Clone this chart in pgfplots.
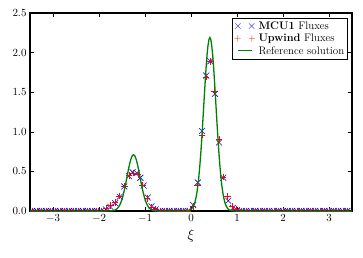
\documentclass[border=0pt]{standalone}
\usepackage{pgfplots}
\pgfplotsset{compat=1.18}
\definecolor{mplblue}{rgb}{0,0,1}
\definecolor{mplred}{rgb}{1,0,0}
\definecolor{mplgreen}{rgb}{0,0.5,0}
\pgfplotsset{
  bluemarks/.style={legend image code/.code={%
    \node[inner sep=0pt, anchor=center, text=mplblue, font=\large] at (0.25cm,0cm) {\textcolor{mplblue}{$\times\kern4.6pt\times$}};}},
  redmarks/.style={legend image code/.code={%
    \node[inner sep=0pt, anchor=center, text=mplred, font=\normalsize] at (0.25cm,0cm) {\textcolor{mplred}{$+\kern6.4pt+$}};}},
  shortline/.style={legend image code/.code={%
    \node[inner sep=0pt, anchor=center, text=mplgreen] at (0.25cm,0cm) {\textcolor{mplgreen}{\rule{0.5cm}{1.3pt}}};}},
}
\begin{document}
\begin{tikzpicture}
\begin{axis}[
  scale only axis,
  width=322bp, height=198bp,
  xmin=-3.5, xmax=3.5, ymin=0, ymax=2.5,
  xtick={-3,-2,-1,0,1,2,3},
  ytick={0,0.5,1,1.5,2,2.5},
  yticklabel style={/pgf/number format/.cd, fixed, fixed zerofill, precision=1},
  tick label style={font=\fontsize{11}{13}\selectfont},
  major tick length=4bp,
  tick style={black, line width=0.6pt},
  axis line style={line width=1.1pt},
  xlabel={$\xi$},
  xlabel style={font=\Large, yshift=0bp},
  clip marker paths=true,
  legend style={at={(1,1)}, anchor=north east, xshift=-4bp, yshift=-5bp,
    font=\fontsize{11}{13}\selectfont,
    inner sep=1.2bp, row sep=-0.5bp},
  every axis legend/.append style={draw, line width=1.1pt},
  legend cell align=left,
]
\addplot[only marks, mark=x, mark size=4.2pt, mplblue, mark options={line width=0.6pt, mplblue}, bluemarks]
coordinates {
(-3.45,0)(-3.35,0)(-3.25,0)(-3.15,0)(-3.05,0)(-2.95,0)(-2.85,0)(-2.75,0)(-2.65,0)(-2.55,0)(-2.45,0)(-2.35,0)(-2.25,0)(-2.15,0)(-2.05,0)(-1.95,0)
(-1.85,0.02)(-1.75,0.05)(-1.65,0.10)(-1.55,0.18)(-1.45,0.31)(-1.35,0.44)(-1.27,0.49)(-1.18,0.48)(-1.10,0.42)(-1.03,0.32)(-0.94,0.17)(-0.86,0.06)(-0.77,0.02)
(-0.67,0)(-0.57,0)(-0.47,0)(-0.37,0)(-0.27,0)(-0.17,0)(-0.07,0)
(0.05,0.076)(0.15,0.36)(0.24,1.01)(0.33,1.71)(0.42,1.89)(0.52,1.48)(0.61,0.865)(0.70,0.42)(0.81,0.13)(0.91,0.04)(1.0,0.01)
(1.1,0)(1.2,0)(1.3,0)(1.4,0)(1.5,0)(1.6,0)(1.7,0)(1.8,0)(1.9,0)(2.0,0)(2.1,0)(2.2,0)(2.3,0)(2.4,0)(2.5,0)(2.6,0)(2.7,0)(2.8,0)(2.9,0)(3.0,0)(3.1,0)(3.2,0)(3.3,0)(3.4,0)
};
\addlegendentry{\textbf{MCU1} Fluxes}
\addplot[only marks, mark=+, mark size=3.3pt, mplred, mark options={line width=0.6pt, mplred}, redmarks]
coordinates {
(-3.45,0)(-3.35,0)(-3.25,0)(-3.15,0)(-3.05,0)(-2.95,0)(-2.85,0)(-2.75,0)(-2.65,0)(-2.55,0)(-2.45,0)(-2.35,0)(-2.25,0)(-2.15,0)(-2.05,0)(-1.95,0)
(-1.85,0.03)(-1.75,0.07)(-1.65,0.11)(-1.55,0.19)(-1.45,0.31)(-1.35,0.45)(-1.25,0.48)(-1.15,0.46)(-1.05,0.33)(-0.96,0.16)(-0.86,0.05)(-0.77,0.02)
(-0.67,0)(-0.57,0)(-0.47,0)(-0.37,0)(-0.27,0)(-0.17,0)(-0.07,0)
(0.04,0.055)(0.14,0.33)(0.24,0.96)(0.33,1.69)(0.42,1.89)(0.51,1.51)(0.61,0.905)(0.70,0.43)(0.79,0.18)(0.89,0.055)(0.98,0.02)
(1.1,0)(1.2,0)(1.3,0)(1.4,0)(1.5,0)(1.6,0)(1.7,0)(1.8,0)(1.9,0)(2.0,0)(2.1,0)(2.2,0)(2.3,0)(2.4,0)(2.5,0)(2.6,0)(2.7,0)(2.8,0)(2.9,0)(3.0,0)(3.1,0)(3.2,0)(3.3,0)(3.4,0)
};
\addlegendentry{\textbf{Upwind} Fluxes}
\addplot[mplgreen, line width=1.3pt, no marks, shortline]
coordinates {
(-3.5,0)(-1.80,0)(-1.73,0.0022)(-1.69,0.0056)(-1.65,0.0130)(-1.61,0.0278)(-1.59,0.0395)(-1.57,0.0549)(-1.55,0.0748)(-1.53,0.100)(-1.51,0.131)(-1.49,0.168)(-1.47,0.212)(-1.45,0.261)(-1.43,0.316)(-1.41,0.374)(-1.39,0.435)(-1.37,0.495)(-1.35,0.553)(-1.33,0.605)(-1.31,0.649)(-1.29,0.682)(-1.27,0.703)(-1.25,0.71)(-1.23,0.703)(-1.21,0.682)(-1.19,0.649)(-1.17,0.605)(-1.15,0.553)(-1.13,0.495)(-1.11,0.435)(-1.09,0.374)(-1.07,0.316)(-1.05,0.261)(-1.03,0.212)(-1.01,0.168)(-0.99,0.131)(-0.97,0.100)(-0.95,0.0748)(-0.93,0.0549)(-0.91,0.0395)(-0.89,0.0278)(-0.85,0.0130)(-0.81,0.0056)(-0.77,0.0022)(-0.70,0)
(-0.15,0)(-0.11,0.001)(-0.07,0.0033)(-0.03,0.0092)(0.01,0.0238)(0.05,0.0563)(0.07,0.0836)(0.09,0.121)(0.11,0.172)(0.13,0.239)(0.15,0.324)(0.17,0.430)(0.19,0.558)(0.21,0.707)(0.23,0.877)(0.25,1.063)(0.27,1.259)(0.29,1.458)(0.31,1.651)(0.33,1.828)(0.35,1.978)(0.37,2.093)(0.39,2.165)(0.41,2.19)(0.43,2.165)(0.45,2.093)(0.47,1.978)(0.49,1.828)(0.51,1.651)(0.53,1.458)(0.55,1.259)(0.57,1.063)(0.59,0.877)(0.61,0.707)(0.63,0.558)(0.65,0.430)(0.67,0.324)(0.69,0.239)(0.71,0.172)(0.73,0.121)(0.75,0.0836)(0.77,0.0563)(0.81,0.0238)(0.85,0.0092)(0.89,0.0033)(0.93,0.001)(0.97,0)(3.5,0)
};
\addlegendentry{Reference solution}
\end{axis}
\path ([shift={(-30bp,-46bp)}]current axis.south west) rectangle ([shift={(11bp,13bp)}]current axis.north east);
\end{tikzpicture}
\end{document}
